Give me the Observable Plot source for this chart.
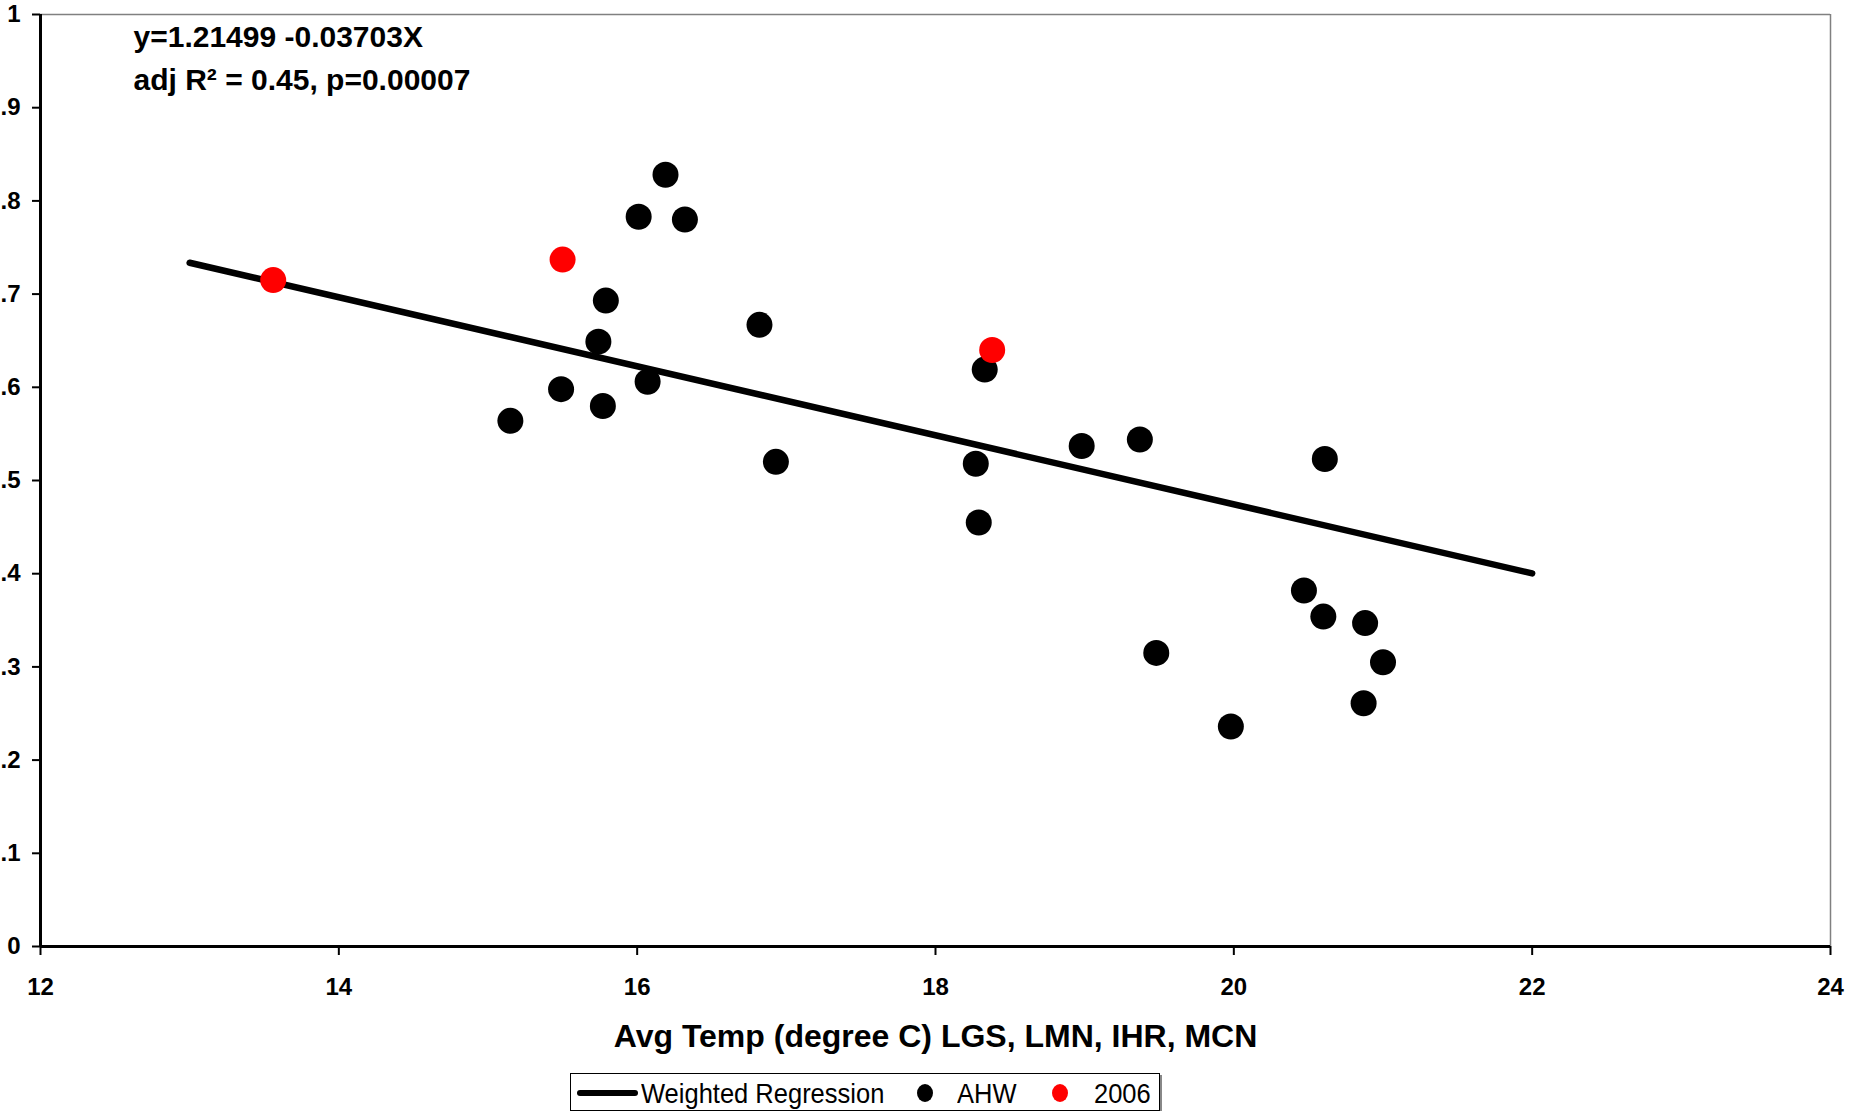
<!DOCTYPE html>
<html>
<head>
<meta charset="utf-8">
<script src="https://cdn.jsdelivr.net/npm/d3@7"></script>
<script src="https://cdn.jsdelivr.net/npm/@observablehq/plot@0.6"></script>
<style>
  html, body { margin: 0; padding: 0; background: #fff; }
  body { font-family: "Liberation Sans", Arial, sans-serif; width: 1857px; }
  #chart svg { display: block; }
  #legend {
    position: relative;
    margin-top: 7px;
    margin-left: 570px;
    width: 590px;
    height: 38px;
    border: 1px solid #000;
    box-shadow: 2px 2px 0 #888;
    box-sizing: border-box;
    color: #000;
  }
  #legend > * { position: absolute; }
  #legend .line { left: 6px; top: 16px; width: 61px; height: 6px; background: #000; border-radius: 3px; }
  #legend .dot { top: 10px; width: 16px; height: 18px; border-radius: 50%; }
  #legend .lbl { top: 1px; line-height: 36px; font-size: 25.5px; white-space: nowrap;
                 transform: scaleY(1.08); transform-origin: 0 50%; }
</style>
</head>
<body>
<div id="chart"></div>
<div id="legend"></div>
<script>
// Survival vs. average temperature — AHW fish (black) and 2006 (red)
const ahwTemp = [16.19, 16.01, 16.32, 15.79, 16.82, 15.74, 15.49, 15.77, 16.07, 15.15,
                 16.93, 18.33, 18.27, 18.29, 18.98, 19.37, 20.61, 19.48, 19.98, 20.47,
                 20.60, 20.88, 21.00, 20.87];
const ahwSurv = [0.828, 0.783, 0.780, 0.693, 0.667, 0.649, 0.598, 0.580, 0.606, 0.564,
                 0.520, 0.619, 0.518, 0.455, 0.537, 0.544, 0.523, 0.315, 0.236, 0.382,
                 0.354, 0.347, 0.305, 0.261];

const temp2006 = [13.56, 15.50, 18.38];
const surv2006 = [0.715, 0.737, 0.640];

// Weighted regression fit
const intercept = 1.21499;
const slope = -0.03703;
const fitRange = [13, 22];

const xTicks = [12, 14, 16, 18, 20, 22, 24];
const yTicks = [0, 0.1, 0.2, 0.3, 0.4, 0.5, 0.6, 0.7, 0.8, 0.9, 1];
const yTickLabels = ["0", ".1", ".2", ".3", ".4", ".5", ".6", ".7", ".8", ".9", "1"];

const xLabel = "Avg Temp (degree C) LGS, LMN, IHR, MCN";
const equationLine1 = "y=1.21499 -0.03703X";
const equationLine2 = "adj R\u00B2 = 0.45, p=0.00007";

const legendLabels = ["Weighted Regression", "AHW", "2006"];
const pointColors = ["#000000", "#ff0000"];

const ahw = ahwTemp.map((t, i) => ({temp: t, surv: ahwSurv[i]}));
const y2006 = temp2006.map((t, i) => ({temp: t, surv: surv2006[i]}));
const fit = fitRange.map(t => ({temp: t, surv: intercept + slope * t}));

const font = "Liberation Sans, Arial, sans-serif";

const chart = Plot.plot({
  width: 1857,
  height: 1066,
  marginLeft: 40,
  marginRight: 27,
  marginTop: 14,
  marginBottom: 120,
  style: {fontFamily: font, fontSize: "24px", fontWeight: "bold", color: "#000", background: "#fff"},
  x: {domain: [12, 24]},
  y: {domain: [0, 1]},
  marks: [
    // grey top and right edges of the plot area
    Plot.ruleY([1], {stroke: "#808080", strokeWidth: 1.5}),
    Plot.ruleX([24], {stroke: "#808080", strokeWidth: 1.5}),
    Plot.axisY({
      ticks: yTicks,
      tickFormat: d => yTickLabels[yTicks.indexOf(d)],
      tickSize: 8,
      tickPadding: 12,
      strokeWidth: 2,
      label: null,
      fontSize: 24,
      fontWeight: "bold"
    }),
    Plot.axisX({
      ticks: xTicks,
      tickSize: 9,
      tickPadding: 22,
      strokeWidth: 2,
      label: null,
      fontSize: 24,
      fontWeight: "bold"
    }),
    Plot.ruleX([12], {stroke: "#000", strokeWidth: 3}),
    Plot.ruleY([0], {stroke: "#000", strokeWidth: 3}),
    Plot.line(fit, {x: "temp", y: "surv", stroke: "#000", strokeWidth: 6.5}),
    Plot.dot(ahw, {x: "temp", y: "surv", r: 13, fill: pointColors[0]}),
    Plot.dot(y2006, {x: "temp", y: "surv", r: 13, fill: pointColors[1]}),
    Plot.text([equationLine1], {
      frameAnchor: "top-left", textAnchor: "start", lineAnchor: "middle",
      dx: 93, dy: 23, fontSize: 30, fontWeight: "bold", fill: "#000"
    }),
    Plot.text([equationLine2], {
      frameAnchor: "top-left", textAnchor: "start", lineAnchor: "middle",
      dx: 93, dy: 66, fontSize: 30, fontWeight: "bold", fill: "#000"
    }),
    Plot.text([xLabel], {
      frameAnchor: "bottom", lineAnchor: "middle",
      dy: 90, fontSize: 32, fontWeight: "bold", fill: "#000"
    })
  ]
});
document.getElementById("chart").appendChild(chart);

// legend below the chart
const legend = document.getElementById("legend");
legend.innerHTML = `
  <div class="line"></div>
  <span class="lbl" style="left:70px">${legendLabels[0]}</span>
  <div class="dot" style="left:346px;background:${pointColors[0]}"></div>
  <span class="lbl" style="left:386px">${legendLabels[1]}</span>
  <div class="dot" style="left:481px;background:${pointColors[1]}"></div>
  <span class="lbl" style="left:523px">${legendLabels[2]}</span>`;
</script>
</body>
</html>
